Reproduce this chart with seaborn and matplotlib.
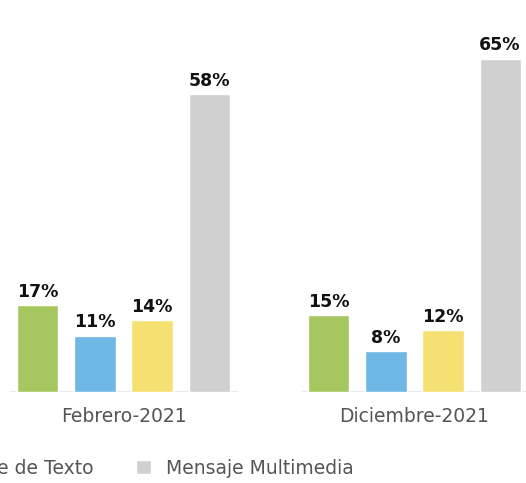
import numpy as np
import pandas as pd
import matplotlib
matplotlib.use("Agg")
import matplotlib.pyplot as plt
import seaborn as sns

# ── Data ─────────────────────────────────────────────────────────────────────
periods = ["Febrero-2021", "Diciembre-2021"]
services = ["Llamadas de Voz", "Datos Móviles", "Mensaje de Texto", "Mensaje Multimedia"]
feb_values = [17, 11, 14, 58]
dic_values = [15, 8, 12, 65]
colors = ["#a6c75f", "#6fb7e5", "#f5e072", "#d1d0d1"]

df = pd.DataFrame({
    "periodo": np.repeat(periods, len(services)),
    "servicio": services * len(periods),
    "valor": feb_values + dic_values,
})

# ── Plot ─────────────────────────────────────────────────────────────────────
sns.set_style("white")
plt.rcParams["font.family"] = ["DejaVu Sans"]

W, H = 526, 483
fig = plt.figure(figsize=(W / 100, H / 100), dpi=100)
# axes deliberately extend past the left edge (the reference is a crop)
px_unit, y_px = 291, 5.13
x0, x1 = -0.5, 1.5
y0, y1 = 0, 75
left_px = 123.5 - px_unit * (0 - x0)
ax = fig.add_axes([left_px / W, 91 / H, px_unit * (x1 - x0) / W, y_px * (y1 - y0) / H])

sns.barplot(
    data=df, x="periodo", y="valor", hue="servicio",
    hue_order=services, order=periods, palette=colors,
    width=0.784, gap=0.28, saturation=1, ax=ax, legend=True,
)
ax.set_xlim(x0, x1)
ax.set_ylim(y0, y1)

for cont in ax.containers:
    ax.bar_label(cont, fmt="%.0f%%", padding=3, fontsize=12.5,
                 fontweight="bold", color="#111111")

# per-group baseline
for i in range(len(periods)):
    ax.hlines(0, i - 0.39, i + 0.39, color="#e4e7ee", lw=2, zorder=0)

sns.despine(ax=ax, left=True, bottom=True)
ax.set_yticks([])
ax.set_xlabel("")
ax.set_ylabel("")
ax.tick_params(axis="x", length=0, pad=11, labelsize=13.5, labelcolor="#555555")

handles, labels = ax.get_legend_handles_labels()
ax.legend_.remove()
fig.legend(
    handles, labels, ncol=4, frameon=False, loc="center right",
    bbox_to_anchor=(354 / W, (H - 468) / H), borderaxespad=0, borderpad=0,
    handlelength=0.8, handleheight=0.8, handletextpad=0.8, columnspacing=2.3,
    prop={"size": 13.5}, labelcolor="#555555",
)

fig.savefig("out.png", dpi=100)
